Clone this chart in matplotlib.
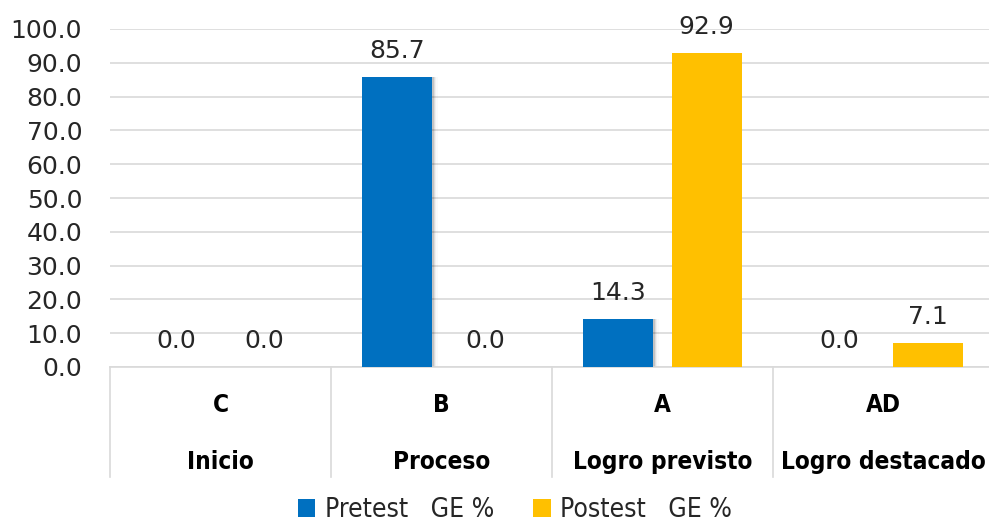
import matplotlib
matplotlib.use("Agg")
import matplotlib.pyplot as plt
import numpy as np

codes = ["C", "B", "A", "AD"]
levels = ["Inicio", "Proceso", "Logro previsto", "Logro destacado"]
series_names = ["Pretest   GE %", "Postest   GE %"]
pretest = [0.0, 85.7, 14.3, 0.0]
postest = [0.0, 0.0, 92.9, 7.1]
yticks = [0, 10, 20, 30, 40, 50, 60, 70, 80, 90, 100]

blue = "#0070C0"
gold = "#FFC000"
grid_c = "#D9D9D9"
txt_c = "#262626"

W, H = 989, 527
fig = plt.figure(figsize=(W / 100, H / 100), dpi=100)
left, right, top, bottom = 110, 994, 29, 367
ax = fig.add_axes([left / W, 1 - bottom / H, (right - left) / W, (bottom - top) / H])

x = np.arange(len(codes))
bw = 0.317
off = 0.2
b1 = ax.bar(x - off, pretest, bw, color=blue, zorder=3)
b2 = ax.bar(x + off, postest, bw, color=gold, zorder=3)

# subtle shadow on blue bars
for xi, v in zip(x, pretest):
    if v > 0:
        for k, a in enumerate([0.12, 0.07, 0.04, 0.02]):
            ax.bar(xi - off + 0.006 * (k + 1), v, bw, color="black", alpha=a, zorder=2)

for bars, vals in ((b1, pretest), (b2, postest)):
    for r, v in zip(bars, vals):
        ax.annotate(f"{v:.1f}", (r.get_x() + r.get_width() / 2, v),
                    xytext=(0, 10), textcoords="offset points",
                    ha="center", va="bottom", fontsize=18, color=txt_c)

ax.set_xlim(-0.5, 3.5)
ax.set_ylim(0, 100)
ax.set_yticks(yticks)
ax.set_yticklabels([f"{t:.1f}" for t in yticks], fontsize=18, color=txt_c)
ax.tick_params(axis="y", length=0, pad=20)
ax.set_xticks([])
ax.yaxis.grid(True, color=grid_c, linewidth=1.2, zorder=0)
for s in ["left", "right", "top"]:
    ax.spines[s].set_visible(False)
ax.spines["bottom"].set_color(grid_c)
ax.spines["bottom"].set_linewidth(1.2)

# multi-level category axis
trans = ax.get_xaxis_transform()
ax_h_px = bottom - top
for b in np.arange(-0.5, 4.0, 1.0):
    ax.plot([b, b], [0, -(477 - bottom) / ax_h_px], transform=trans,
            color=grid_c, linewidth=1.2, clip_on=False)
for xi, c, lv in zip(x, codes, levels):
    ax.text(xi, -(405 - bottom) / ax_h_px, c, transform=trans, ha="center", va="center",
            fontsize=17.5, fontweight="bold", color="black", fontstretch="condensed")
    ax.text(xi, -(462 - bottom) / ax_h_px, lv, transform=trans, ha="center", va="center",
            fontsize=17.5, fontweight="bold", color="black", fontstretch="condensed")

leg = fig.legend([b1, b2], series_names, loc="center", bbox_to_anchor=(515 / W, 1 - 510 / H),
                 ncol=2, frameon=False, handlelength=0.65, handleheight=0.65,
                 handletextpad=0.35, columnspacing=1.5, borderpad=0.1,
                 prop={"stretch": "condensed", "size": 19})
for t in leg.get_texts():
    t.set_color(txt_c)

fig.savefig("out.png", dpi=100)
